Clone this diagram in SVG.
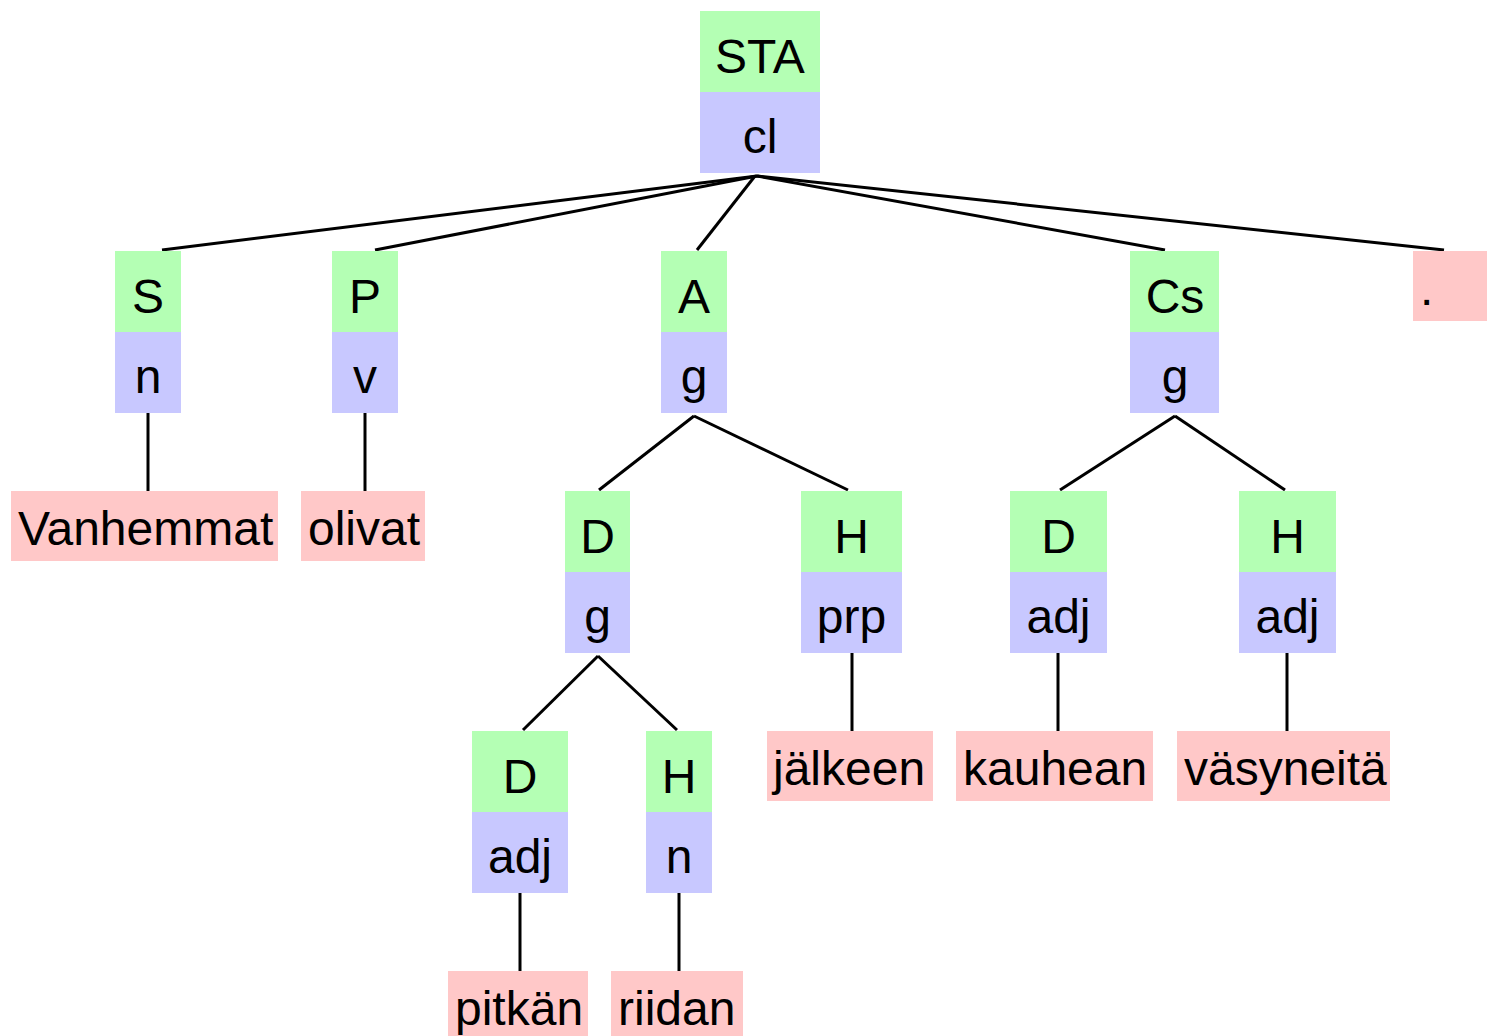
<svg xmlns="http://www.w3.org/2000/svg" width="1487" height="1036" viewBox="0 0 1487 1036">
  <style>
    .fn { fill: #b4ffb4; }
    .cat { fill: #c8c8ff; }
    .leaf { fill: #ffc8c8; }
    text { font-family: "Liberation Sans", Arial, sans-serif; font-size: 48px; fill: #000; }
    .c { text-anchor: middle; }
    .edges line { stroke: #000; stroke-width: 3; }
  </style>
  <rect width="1487" height="1036" fill="#fff"/>

  <!-- connectors -->
  <g id="edges" class="edges">
    <line x1="757" y1="176" x2="162" y2="250"/>
    <line x1="757" y1="176" x2="375" y2="250"/>
    <line x1="755" y1="176" x2="697" y2="250"/>
    <line x1="757" y1="176" x2="1165" y2="250"/>
    <line x1="757" y1="176" x2="1444" y2="250"/>
    <line x1="148" y1="413" x2="148" y2="491"/>
    <line x1="365" y1="413" x2="365" y2="491"/>
    <line x1="694" y1="416" x2="599" y2="490"/>
    <line x1="694" y1="416" x2="848" y2="490"/>
    <line x1="1175" y1="416" x2="1060" y2="490"/>
    <line x1="1175" y1="416" x2="1285" y2="490"/>
    <line x1="598" y1="656" x2="523" y2="730"/>
    <line x1="598" y1="656" x2="677" y2="730"/>
    <line x1="852" y1="653" x2="852" y2="731"/>
    <line x1="1058" y1="653" x2="1058" y2="731"/>
    <line x1="1287" y1="653" x2="1287" y2="731"/>
    <line x1="520" y1="893" x2="520" y2="971"/>
    <line x1="679" y1="893" x2="679" y2="971"/>
  </g>

  <!-- root -->
  <g id="n-sta">
    <rect class="fn" x="700" y="11" width="120" height="81"/>
    <rect class="cat" x="700" y="92" width="120" height="81"/>
    <text class="c" x="760" y="73">STA</text>
    <text class="c" x="760" y="153">cl</text>
  </g>

  <!-- clause constituents -->
  <g id="n-s">
    <rect class="fn" x="115" y="251" width="66" height="81"/>
    <rect class="cat" x="115" y="332" width="66" height="81"/>
    <text class="c" x="148" y="313">S</text>
    <text class="c" x="148" y="393">n</text>
  </g>
  <g id="n-p">
    <rect class="fn" x="332" y="251" width="66" height="81"/>
    <rect class="cat" x="332" y="332" width="66" height="81"/>
    <text class="c" x="365" y="313">P</text>
    <text class="c" x="365" y="393">v</text>
  </g>
  <g id="n-a">
    <rect class="fn" x="661" y="251" width="66" height="81"/>
    <rect class="cat" x="661" y="332" width="66" height="81"/>
    <text class="c" x="694" y="313">A</text>
    <text class="c" x="694" y="393">g</text>
  </g>
  <g id="n-cs">
    <rect class="fn" x="1130" y="251" width="89" height="81"/>
    <rect class="cat" x="1130" y="332" width="89" height="81"/>
    <text class="c" x="1175" y="313">Cs</text>
    <text class="c" x="1175" y="393">g</text>
  </g>
  <g id="n-dot">
    <rect class="leaf" x="1413" y="251" width="74" height="70"/>
    <text x="1420" y="305">.</text>
  </g>

  <!-- third row -->
  <g id="n-vanhemmat">
    <rect class="leaf" x="11" y="491" width="267" height="70"/>
    <text x="18" y="545">Vanhemmat</text>
  </g>
  <g id="n-olivat">
    <rect class="leaf" x="301" y="491" width="124" height="70"/>
    <text x="308" y="545">olivat</text>
  </g>
  <g id="n-a-d">
    <rect class="fn" x="565" y="491" width="65" height="81"/>
    <rect class="cat" x="565" y="572" width="65" height="81"/>
    <text class="c" x="597.5" y="553">D</text>
    <text class="c" x="597.5" y="633">g</text>
  </g>
  <g id="n-a-h">
    <rect class="fn" x="801" y="491" width="101" height="81"/>
    <rect class="cat" x="801" y="572" width="101" height="81"/>
    <text class="c" x="851.5" y="553">H</text>
    <text class="c" x="851.5" y="633">prp</text>
  </g>
  <g id="n-cs-d">
    <rect class="fn" x="1010" y="491" width="97" height="81"/>
    <rect class="cat" x="1010" y="572" width="97" height="81"/>
    <text class="c" x="1058.5" y="553">D</text>
    <text class="c" x="1058.5" y="633">adj</text>
  </g>
  <g id="n-cs-h">
    <rect class="fn" x="1239" y="491" width="97" height="81"/>
    <rect class="cat" x="1239" y="572" width="97" height="81"/>
    <text class="c" x="1287.5" y="553">H</text>
    <text class="c" x="1287.5" y="633">adj</text>
  </g>

  <!-- fourth row -->
  <g id="n-d-d">
    <rect class="fn" x="472" y="731" width="96" height="81"/>
    <rect class="cat" x="472" y="812" width="96" height="81"/>
    <text class="c" x="520" y="793">D</text>
    <text class="c" x="520" y="873">adj</text>
  </g>
  <g id="n-d-h">
    <rect class="fn" x="646" y="731" width="66" height="81"/>
    <rect class="cat" x="646" y="812" width="66" height="81"/>
    <text class="c" x="679" y="793">H</text>
    <text class="c" x="679" y="873">n</text>
  </g>
  <g id="n-jalkeen">
    <rect class="leaf" x="767" y="731" width="166" height="70"/>
    <text x="773" y="785">jälkeen</text>
  </g>
  <g id="n-kauhean">
    <rect class="leaf" x="956" y="731" width="197" height="70"/>
    <text x="963" y="785">kauhean</text>
  </g>
  <g id="n-vasyneita">
    <rect class="leaf" x="1177" y="731" width="213" height="70"/>
    <text x="1184" y="785">väsyneitä</text>
  </g>

  <!-- fifth row -->
  <g id="n-pitkan">
    <rect class="leaf" x="448" y="971" width="140" height="70"/>
    <text x="455" y="1025">pitkän</text>
  </g>
  <g id="n-riidan">
    <rect class="leaf" x="611" y="971" width="132" height="70"/>
    <text x="618" y="1025">riidan</text>
  </g>
</svg>
